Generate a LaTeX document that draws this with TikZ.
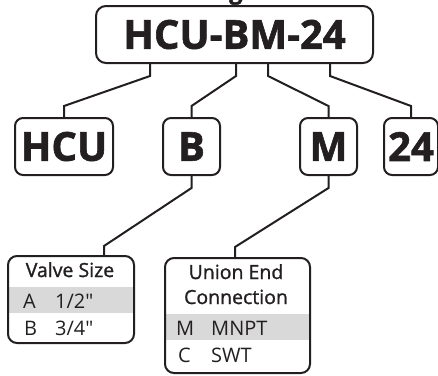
\documentclass[tikz,border=0pt]{standalone}
\usepackage{fontspec}
\setmainfont{Open Sans}[Ligatures=TeXOff, BoldFeatures={FakeBold=1.5}]
\newfontfamily\hdrfont[FakeBold=1.2,Ligatures=TeXOff]{Open Sans}
\definecolor{ink}{HTML}{231F20}
\definecolor{band}{HTML}{D9D9D9}
\tikzset{
  box/.style={draw=ink, line width=2pt, inner sep=0pt, text=ink},
  codebox/.style={box, rounded corners=8pt, minimum height=57pt, font=\bfseries\fontsize{40}{40}\selectfont},
  tblbox/.style={box, rounded corners=9pt},
  conn/.style={draw=ink, line width=2pt, line join=miter},
  hdr/.style={inner sep=0pt, text=ink, font=\hdrfont\fontsize{19.5}{19.5}\selectfont},
  cell/.style={inner sep=0pt, text=ink, anchor=base west, font=\fontsize{20}{20}\selectfont},
}
\begin{document}
\begin{tikzpicture}[x=1pt,y=-1pt]
\useasboundingbox (0,0) rectangle (438,375);
\begin{scope}
  \clip (0,0) rectangle (438,375);
  \node[inner sep=0pt, anchor=south west, text=ink, font=\bfseries\fontsize{24}{24}\selectfont] (title) at (7,5) {HCU Valve Ordering Guide};
\end{scope}
% main code
\node[codebox, rounded corners=10pt, minimum width=277pt] (main) at (234.5,34.5) {HCU-BM-24};
% segments
\node[codebox, minimum width=98pt] (hcu) at (64,146.5) {HCU};
\node[codebox, minimum width=57pt] (b) at (191.5,146.5) {B};
\node[codebox, minimum width=57pt] (m) at (328.5,146.5) {M};
\node[codebox, minimum width=54pt] (n24) at (411,146.5) {24};
% connectors top
\draw[conn] ([xshift=-84.5pt]main.south) -- ++(0,12) -- ([yshift=11pt]hcu.north) -- (hcu.north);
\draw[conn] ([xshift=1.5pt]main.south) -- ++(0,12) -- ([yshift=11pt]b.north) -- (b.north);
\draw[conn] ([xshift=33.5pt]main.south) -- ++(0,12) -- ([yshift=11pt]m.north) -- (m.north);
\draw[conn] ([xshift=95.5pt]main.south) -- ++(0,12) -- ([yshift=11pt]n24.north) -- (n24.north);
% valve size table
\fill[band] (9,287) rectangle (133,313);
\node[tblbox, minimum width=126pt, minimum height=87pt] (valve) at (71,299.5) {};
\node[hdr, anchor=base] (vh) at (70,277) {Valve Size};
\node[cell] (va) at (23,308) {A};
\node[cell] (vav) at (55,308) {1/2"};
\node[cell] (vb) at (24,335) {B};
\node[cell] (vbv) at (55,335) {3/4"};
% union end table
\fill[band] (166,314) rectangle (309,340);
\node[tblbox, minimum width=145pt, minimum height=115pt] (union) at (237.5,315.5) {};
\node[hdr, anchor=base] (uh1) at (236,279) {Union End};
\node[hdr, anchor=base] (uh2) at (236,304) {Connection};
\node[cell] (um) at (176,335) {M};
\node[cell] (umv) at (211,335) {MNPT};
\node[cell] (uc) at (178,362) {C};
\node[cell] (ucv) at (211,362) {SWT};
% connectors bottom
\coordinate (vtop) at ([xshift=33pt]valve.north);
\coordinate (utop) at ([xshift=-2.5pt]union.north);
\draw[conn] (b.south) -- ++(0,12) -- ([yshift=9pt]vtop) -- (vtop);
\draw[conn] (m.south) -- ++(0,12) -- ([yshift=10pt]utop) -- (utop);
\end{tikzpicture}
\end{document}
